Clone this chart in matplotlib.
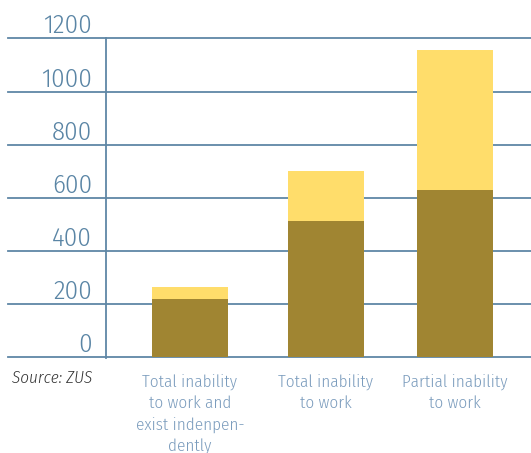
import matplotlib
matplotlib.use("Agg")
import matplotlib.pyplot as plt
from matplotlib import font_manager
from matplotlib.font_manager import FontProperties
from matplotlib.textpath import TextPath
import matplotlib.transforms as mtransforms

categories = ["Total inability\nto work and\nexist indenpen-\ndently",
              "Total inability\nto work",
              "Partial inability\nto work"]
base_values = [220, 512, 628]
top_values = [45, 189, 527]
ytick_values = [0, 200, 400, 600, 800, 1000, 1200]
source_text = "Source: ZUS"

names = {f.name for f in font_manager.fontManager.ttflist}
font = "Roboto"
for cand in ["Fira Sans Condensed", "Barlow Semi Condensed", "Asap Condensed", "Barlow Condensed"]:
    if cand in names:
        font = cand
        break

WT = 300


def size_for(text, target_px, **kw):
    fp = FontProperties(family=font, **kw)
    w = TextPath((0, 0), text, size=100, prop=fp).get_extents().width
    return 100 * (target_px * 0.72) / w


W, H = 531, 453
fig = plt.figure(figsize=(W / 100, H / 100), dpi=100)
ax_left = 105.7 / W
ax_bottom = (H - 357) / H
ax = fig.add_axes([ax_left, ax_bottom, 1 - ax_left, 357 / H])

dark = "#A08532"
light = "#FFDD6B"
grid_c = "#5F87A6"
tick_c = "#5A85A5"
cat_c = "#7B9CBD"

pos = [0.0, 1.0, 1.95]
ax.set_xlim(-0.62, 2.507)
ax.set_ylim(0, 1345)

ax.bar(pos, base_values, width=0.559, color=dark, zorder=3)
ax.bar(pos, top_values, bottom=base_values, width=0.559, color=light, zorder=3)

xmin_frac = (8 - 105.7) / (W - 105.7)
for v in ytick_values:
    ax.axhline(v, xmin=xmin_frac, xmax=1, color=grid_c, lw=1.3, clip_on=False, zorder=1)
ax.plot([0, 0], [-3, 1200], transform=mtransforms.blended_transform_factory(ax.transAxes, ax.transData),
        color=grid_c, lw=1.3, clip_on=False, zorder=2)

for s in ax.spines.values():
    s.set_visible(False)
ax.set_xticks([])
ax.set_yticks([])

tick_size = size_for("1200", 46, weight=WT)
trans = mtransforms.blended_transform_factory(ax.transAxes, ax.transData)
trans = trans + mtransforms.ScaledTranslation(0, 5 / 100, fig.dpi_scale_trans)
lab_x = (92 - 105.7) / (W - 105.7)
for v in ytick_values:
    ax.text(lab_x, v, str(v), transform=trans, ha="right", va="baseline",
            fontsize=tick_size, fontweight=WT, color=tick_c, family=font)

cat_size = size_for("Total inability", 94, weight=WT)
xtrans = mtransforms.blended_transform_factory(ax.transData, fig.transFigure)
for p, c in zip(pos, categories):
    for i, line in enumerate(c.split("\n")):
        ax.text(p, 1 - (387 + 21.5 * i) / H, line, ha="center", va="baseline",
                fontsize=cat_size, fontweight=WT, color=cat_c, family=font,
                transform=xtrans, clip_on=False)

src_size = size_for(source_text, 80, weight=WT, style="italic")
fig.text(12 / W, 1 - 383 / H, source_text, ha="left", va="baseline", fontsize=src_size,
         style="italic", fontweight=WT, color="#333333", family=font)

fig.savefig("out.png", dpi=100)
